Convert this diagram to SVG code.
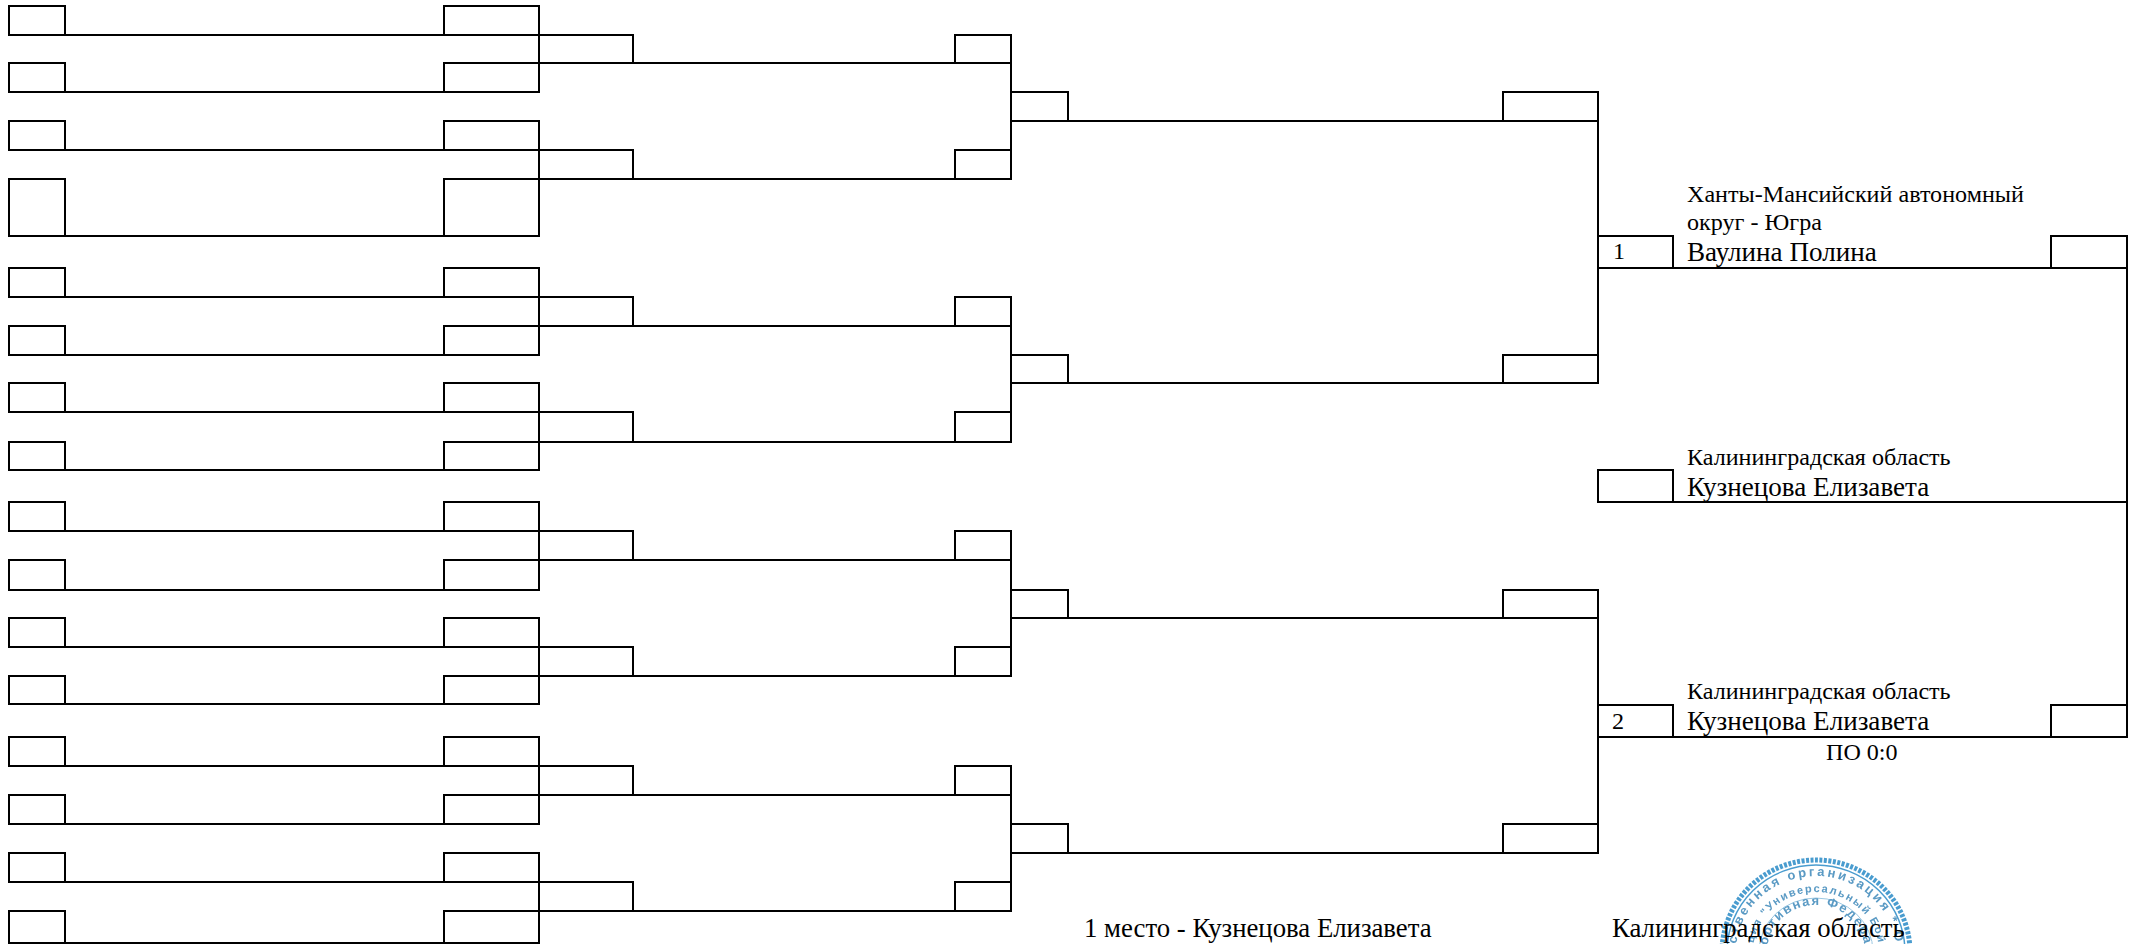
<svg xmlns="http://www.w3.org/2000/svg" width="2141" height="944" viewBox="0 0 2141 944">
<style>
rect.b{fill:none;stroke:#000;stroke-width:2}
path.c{fill:none;stroke:#000;stroke-width:2}
text{font-family:"Liberation Serif","Times New Roman",serif;fill:#000}
.s{font-size:24.1px}
.n{font-size:27.1px}
.st{font-family:"Liberation Sans",Arial,sans-serif;fill:#5a9ac4;font-weight:bold}
</style>
<defs>
<filter id="soft" x="-5%" y="-5%" width="110%" height="110%"><feGaussianBlur stdDeviation="0.7"/></filter>
<path id="a1" d="M1736 952A80 76 0 0 1 1896 952"/>
<path id="a2" d="M1753 952A63 60 0 0 1 1879 952"/>
<path id="a3" d="M1767 952A49 47 0 0 1 1865 952"/>
</defs>
<rect width="2141" height="944" fill="#fff"/>
<g id="seal" filter="url(#soft)">
<ellipse cx="1816" cy="952" rx="94" ry="92" fill="none" stroke="#4a9ccf" stroke-width="5" stroke-dasharray="3 1.5"/>
<ellipse cx="1816" cy="952" rx="89" ry="87" fill="none" stroke="#4a9ccf" stroke-width="1.5"/>
<ellipse cx="1816" cy="952" rx="57" ry="54" fill="none" stroke="#9cc8e2" stroke-width="1"/>
<text class="st" font-size="13" letter-spacing="2.6"><textPath href="#a1" startOffset="50%" text-anchor="middle">бщественная организация * ОГРН</textPath></text>
<text class="st" font-size="11" letter-spacing="1.6"><textPath href="#a2" startOffset="50%" text-anchor="middle">ация "Универсальный Бой"</textPath></text>
<text class="st" font-size="13" letter-spacing="1.6"><textPath href="#a3" startOffset="50%" text-anchor="middle">портивная Федерац</textPath></text>
</g>
<g id="connectors">
<path class="c" d="M65 35H444M65 92H444M65 150H444M65 236H444M65 297H444M65 355H444M65 412H444M65 470H444M65 531H444M65 590H444M65 647H444M65 704H444M65 766H444M65 824H444M65 882H444M65 943H444"/>
<path class="c" d="M539 35V63M539 150V179M539 297V326M539 412V442M539 531V560M539 647V676M539 766V795M539 882V911"/>
<path class="c" d="M633 63H955M633 179H955M633 326H955M633 442H955M633 560H955M633 676H955M633 795H955M633 911H955"/>
<path class="c" d="M1011 63V92M1011 121V179M1011 326V355M1011 383V442M1011 560V590M1011 618V676M1011 795V824M1011 853V911"/>
<path class="c" d="M1068 121H1503M1068 383H1503M1068 618H1503M1068 853H1503"/>
<path class="c" d="M1598 121V236M1598 268V383M1598 618V705M1598 737V853"/>
<path class="c" d="M1673 268H2051M1673 502H2127M1673 737H2051M2127 268V705"/>
</g>
<g id="round1-left">
<rect class="b" x="9" y="6" width="56" height="29"/><rect class="b" x="9" y="63" width="56" height="29"/><rect class="b" x="9" y="121" width="56" height="29"/><rect class="b" x="9" y="179" width="56" height="57"/>
<rect class="b" x="9" y="268" width="56" height="29"/><rect class="b" x="9" y="326" width="56" height="29"/><rect class="b" x="9" y="383" width="56" height="29"/><rect class="b" x="9" y="442" width="56" height="28"/>
<rect class="b" x="9" y="502" width="56" height="29"/><rect class="b" x="9" y="560" width="56" height="30"/><rect class="b" x="9" y="618" width="56" height="29"/><rect class="b" x="9" y="676" width="56" height="28"/>
<rect class="b" x="9" y="737" width="56" height="29"/><rect class="b" x="9" y="795" width="56" height="29"/><rect class="b" x="9" y="853" width="56" height="29"/><rect class="b" x="9" y="911" width="56" height="32"/>
</g>
<g id="round1-right">
<rect class="b" x="444" y="6" width="95" height="29"/><rect class="b" x="444" y="63" width="95" height="29"/><rect class="b" x="444" y="121" width="95" height="29"/><rect class="b" x="444" y="179" width="95" height="57"/>
<rect class="b" x="444" y="268" width="95" height="29"/><rect class="b" x="444" y="326" width="95" height="29"/><rect class="b" x="444" y="383" width="95" height="29"/><rect class="b" x="444" y="442" width="95" height="28"/>
<rect class="b" x="444" y="502" width="95" height="29"/><rect class="b" x="444" y="560" width="95" height="30"/><rect class="b" x="444" y="618" width="95" height="29"/><rect class="b" x="444" y="676" width="95" height="28"/>
<rect class="b" x="444" y="737" width="95" height="29"/><rect class="b" x="444" y="795" width="95" height="29"/><rect class="b" x="444" y="853" width="95" height="29"/><rect class="b" x="444" y="911" width="95" height="32"/>
</g>
<g id="round2-left">
<rect class="b" x="539" y="35" width="94" height="28"/><rect class="b" x="539" y="150" width="94" height="29"/><rect class="b" x="539" y="297" width="94" height="29"/><rect class="b" x="539" y="412" width="94" height="30"/>
<rect class="b" x="539" y="531" width="94" height="29"/><rect class="b" x="539" y="647" width="94" height="29"/><rect class="b" x="539" y="766" width="94" height="29"/><rect class="b" x="539" y="882" width="94" height="29"/>
</g>
<g id="round2-right">
<rect class="b" x="955" y="35" width="56" height="28"/><rect class="b" x="955" y="150" width="56" height="29"/><rect class="b" x="955" y="297" width="56" height="29"/><rect class="b" x="955" y="412" width="56" height="30"/>
<rect class="b" x="955" y="531" width="56" height="29"/><rect class="b" x="955" y="647" width="56" height="29"/><rect class="b" x="955" y="766" width="56" height="29"/><rect class="b" x="955" y="882" width="56" height="29"/>
</g>
<g id="round3-left">
<rect class="b" x="1011" y="92" width="57" height="29"/><rect class="b" x="1011" y="355" width="57" height="28"/><rect class="b" x="1011" y="590" width="57" height="28"/><rect class="b" x="1011" y="824" width="57" height="29"/>
</g>
<g id="round3-right">
<rect class="b" x="1503" y="92" width="95" height="29"/><rect class="b" x="1503" y="355" width="95" height="28"/><rect class="b" x="1503" y="590" width="95" height="28"/><rect class="b" x="1503" y="824" width="95" height="29"/>
</g>
<g id="final-1">
<rect class="b" x="1598" y="236" width="75" height="32"/><rect class="b" x="2051" y="236" width="76" height="32"/>
<text class="s" x="1613" y="259">1</text>
<text class="s" x="1687" y="202">Ханты-Мансийский автономный</text>
<text class="s" x="1687" y="230">округ - Югра</text>
<text class="n" x="1687" y="261">Ваулина Полина</text>
</g>
<g id="final-winner">
<rect class="b" x="1598" y="470" width="75" height="32"/>
<text class="s" x="1687" y="465">Калининградская область</text>
<text class="n" x="1687" y="496">Кузнецова Елизавета</text>
</g>
<g id="final-2">
<rect class="b" x="1598" y="705" width="75" height="32"/><rect class="b" x="2051" y="705" width="76" height="32"/>
<text class="s" x="1612" y="729">2</text>
<text class="s" x="1687" y="699">Калининградская область</text>
<text class="n" x="1687" y="730">Кузнецова Елизавета</text>
<text class="s" x="1826" y="760">ПО 0:0</text>
</g>
<g id="result">
<text class="n" x="1084" y="937" style="font-size:26.75px">1 место - Кузнецова Елизавета</text>
<text class="n" x="1612" y="937" style="font-size:26.75px">Калининградская область</text>
</g>
</svg>
